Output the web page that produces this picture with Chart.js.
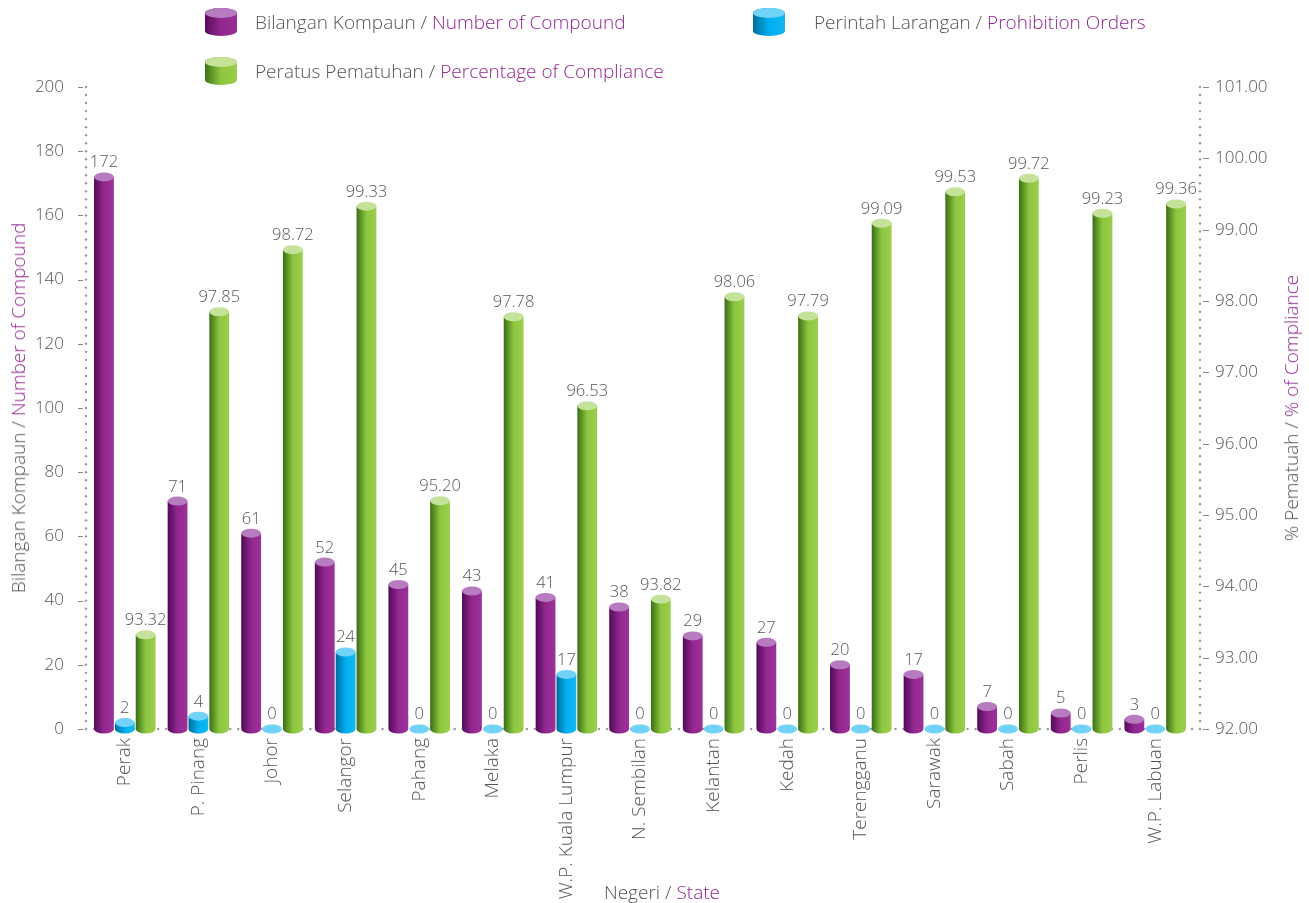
<!DOCTYPE html>
<html>
<head>
<meta charset="utf-8">
<script src="https://cdn.jsdelivr.net/npm/chart.js@4.4.0/dist/chart.umd.min.js"></script>
<style>
    body { margin:0; background:#fff; font-family:"Open Sans", Lato, sans-serif; font-weight:300; }
    #wrap { position:relative; width:1309px; height:903px; overflow:hidden; }
    #c { position:absolute; left:0; top:0; }
    .lg { position:absolute; font-size:19px; color:#555; display:flex; align-items:center; height:30px; white-space:nowrap; }
    .cyl { width:32px; height:28px; position:relative; margin-right:18px; border-radius:16px / 5px; }
    .cyl i { position:absolute; left:0; top:0; width:32px; height:10px; border-radius:50%; }
    .en { color:#92278f; }
    .ttl { position:absolute; font-size:19px; color:#555; white-space:nowrap; transform:translate(-50%,-50%); }
    .rot { transform:translate(-50%,-50%) rotate(-90deg); }
</style>
</head>
<body>
<div id="wrap">
    <canvas id="c" width="1309" height="903"></canvas>

    <div class="lg" style="left:205px; top:7px;">
        <div class="cyl" style="background:linear-gradient(90deg,#5a0c5c,#92278f 50%,#9a2f98);"><i style="background:#b77cbf;"></i></div>
        Bilangan Kompaun /&nbsp;<span class="en">Number of Compound</span>
    </div>
    <div class="lg" style="left:753px; top:7px;">
        <div class="cyl" style="background:linear-gradient(90deg,#006f9e,#00aeef 50%,#12b6f0); margin-right:29px;"><i style="background:#6fd2f6;"></i></div>
        Perintah Larangan /&nbsp;<span class="en">Prohibition Orders</span>
    </div>
    <div class="lg" style="left:205px; top:56px;">
        <div class="cyl" style="background:linear-gradient(90deg,#3b7418,#8dc63f 50%,#98cd49);"><i style="background:#c4e29a;"></i></div>
        Peratus Pematuhan /&nbsp;<span class="en">Percentage of Compliance</span>
    </div>

    <div class="ttl rot" style="left:18px; top:408px;">Bilangan Kompaun / <span class="en">Number of Compound</span></div>
    <div class="ttl rot" style="left:1291px; top:408px;">% Pematuah / <span class="en">% of Compliance</span></div>
    <div class="ttl" style="left:662px; top:892px;">Negeri / <span class="en">State</span></div>
</div>

<script>
// ---- data ----
const states = ['Perak', 'P. Pinang', 'Johor', 'Selangor', 'Pahang', 'Melaka', 'W.P. Kuala Lumpur',
    'N. Sembilan', 'Kelantan', 'Kedah', 'Terengganu', 'Sarawak', 'Sabah', 'Perlis', 'W.P. Labuan'];
const compounds = [172, 71, 61, 52, 45, 43, 41, 38, 29, 27, 20, 17, 7, 5, 3];
const prohibitions = [2, 4, 0, 24, 0, 0, 17, 0, 0, 0, 0, 0, 0, 0, 0];
const compliance = [93.32, 97.85, 98.72, 99.33, 95.20, 97.78, 96.53, 93.82, 98.06, 97.79, 99.09, 99.53, 99.72, 99.23, 99.36];
const leftTicks = [0, 200, 20];      // min, max, step
const rightTicks = [92, 101, 1];

// cylinder colours: [dark edge, mid, right edge, top]
const palette = [
    ['#520a55', '#92278f', '#9c319a', '#b77cbf'],
    ['#006b99', '#00aeef', '#15b7f0', '#6fd2f6'],
    ['#386f16', '#8dc63f', '#9ace4b', '#c4e29a']
];

const TXT = '#555';
const FONT = '"Open Sans", Lato, sans-serif';
const DOT = '#9a9a9a';

function drawCylinder(ctx, x, w, top, base, cols) {
    const rx = w / 2, ry = 4.5;
    if (base - top > 0.5) {
        const g = ctx.createLinearGradient(x - rx, 0, x + rx, 0);
        g.addColorStop(0, cols[0]);
        g.addColorStop(0.5, cols[1]);
        g.addColorStop(1, cols[2]);
        ctx.fillStyle = g;
        ctx.beginPath();
        ctx.moveTo(x - rx, top);
        ctx.lineTo(x - rx, base);
        ctx.ellipse(x, base, rx, ry, 0, Math.PI, 0, true);
        ctx.lineTo(x + rx, top);
        ctx.closePath();
        ctx.fill();
    }
    ctx.fillStyle = cols[3];
    ctx.beginPath();
    ctx.ellipse(x, top, rx, ry, 0, 0, Math.PI * 2);
    ctx.fill();
}

function dots(ctx, x1, y1, x2, y2) {
    const len = Math.hypot(x2 - x1, y2 - y1), n = Math.floor(len / 8);
    for (let k = 0; k <= n; k++) {
        const t = n ? k / n : 0;
        ctx.beginPath();
        ctx.arc(x1 + (x2 - x1) * t, y1 + (y2 - y1) * t, 1.2, 0, Math.PI * 2);
        ctx.fill();
    }
}

// dotted axes and small tick dashes
const axesPlugin = {
    id: 'dottedAxes',
    beforeDatasetsDraw(chart) {
        const { ctx, chartArea: a, scales } = chart;
        const xl = a.left - 2, xr = a.right + 8;
        ctx.save();
        ctx.fillStyle = DOT;
        dots(ctx, xl, a.top, xl, a.bottom);
        dots(ctx, xr, a.top, xr, a.bottom);
        dots(ctx, xl, a.bottom, xr, a.bottom);
        ctx.strokeStyle = '#888';
        ctx.lineWidth = 1;
        scales.y.ticks.forEach(t => {
            const y = Math.round(scales.y.getPixelForValue(t.value)) + 0.5;
            ctx.beginPath(); ctx.moveTo(xl - 8, y); ctx.lineTo(xl - 3, y); ctx.stroke();
        });
        scales.y1.ticks.forEach(t => {
            const y = Math.round(scales.y1.getPixelForValue(t.value)) + 0.5;
            ctx.beginPath(); ctx.moveTo(xr + 3, y); ctx.lineTo(xr + 9, y); ctx.stroke();
        });
        ctx.restore();
    }
};

// custom cylinder bars + value labels
const cylinderPlugin = {
    id: 'cylinders',
    afterDatasetsDraw(chart) {
        const ctx = chart.ctx;
        ctx.save();
        chart.data.datasets.forEach((ds, di) => {
            chart.getDatasetMeta(di).data.forEach(bar => {
                drawCylinder(ctx, bar.x, bar.width, bar.y, bar.base, palette[di]);
            });
        });
        ctx.font = '300 16.5px ' + FONT;
        ctx.fillStyle = TXT;
        ctx.textAlign = 'center';
        ctx.textBaseline = 'bottom';
        chart.data.datasets.forEach((ds, di) => {
            chart.getDatasetMeta(di).data.forEach((bar, i) => {
                const v = ds.data[i];
                ctx.fillText(di === 2 ? v.toFixed(2) : String(v), bar.x, bar.y - 6);
            });
        });
        ctx.restore();
    }
};

const clear = 'rgba(0,0,0,0)';
const tickFont = { size: 17, family: FONT, weight: 300 };

new Chart(document.getElementById('c'), {
    type: 'bar',
    data: {
        labels: states,
        datasets: [
            { label: 'Number of Compound', data: compounds, yAxisID: 'y', backgroundColor: clear },
            { label: 'Prohibition Orders', data: prohibitions, yAxisID: 'y', backgroundColor: clear },
            { label: 'Percentage of Compliance', data: compliance, yAxisID: 'y1', backgroundColor: clear,
              base: rightTicks[0] }
        ]
    },
    options: {
        responsive: false,
        animation: false,
        datasets: { bar: { categoryPercentage: 0.85, barPercentage: 0.95 } },
        layout: { padding: { top: 87, left: 0, right: 0, bottom: 0 } },
        plugins: { legend: { display: false }, tooltip: { enabled: false } },
        scales: {
            x: {
                grid: { display: false, drawTicks: false },
                border: { display: false },
                ticks: { color: TXT, font: { size: 19, family: FONT, weight: 300 }, minRotation: 90, maxRotation: 90, padding: 9 },
                afterFit: s => { s.height = 174; }
            },
            y: {
                position: 'left',
                min: leftTicks[0], max: leftTicks[1],
                ticks: { stepSize: leftTicks[2], color: TXT, font: tickFont, padding: 16 },
                grid: { display: false, drawTicks: true, tickLength: 8 },
                border: { display: false },
                afterFit: s => { s.width = 88; }
            },
            y1: {
                position: 'right',
                min: rightTicks[0], max: rightTicks[1],
                ticks: { stepSize: rightTicks[2], color: TXT, font: tickFont, padding: 15,
                    callback: v => Number(v).toFixed(2) },
                grid: { display: false, drawTicks: true, tickLength: 8 },
                border: { display: false },
                afterFit: s => { s.width = 117; }
            }
        }
    },
    plugins: [axesPlugin, cylinderPlugin]
});
</script>
</body>
</html>
